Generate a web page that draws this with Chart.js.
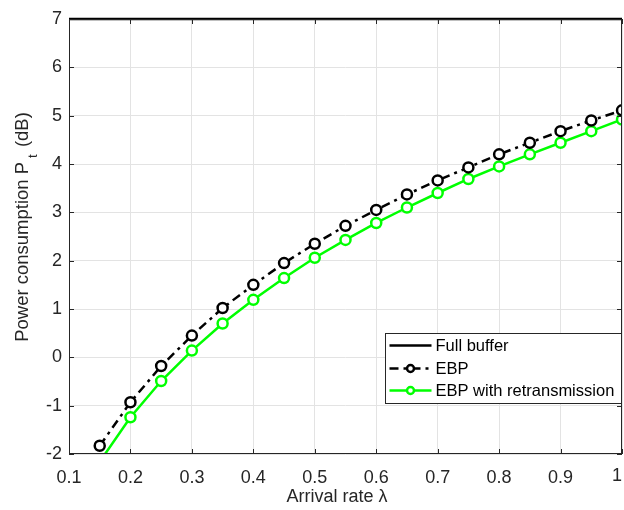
<!DOCTYPE html>
<html>
<head>
<meta charset="utf-8">
<script src="https://cdn.jsdelivr.net/npm/chart.js@4"></script>
<style>
  html, body { margin: 0; padding: 0; background: #fff; }
  #wrap { width: 624px; height: 510px; }
</style>
</head>
<body>
<div id="wrap"><canvas id="powerChart" width="624" height="510"></canvas></div>
<script>
// arrival rate (x)
const arrival = [0.15, 0.2, 0.25, 0.3, 0.35, 0.4, 0.45, 0.5, 0.55, 0.6, 0.65, 0.7, 0.75, 0.8, 0.85, 0.9, 0.95, 1.0];
// power consumption in dB
const ebp = [-1.83, -0.93, -0.18, 0.45, 1.02, 1.5, 1.95, 2.35, 2.72, 3.05, 3.37, 3.66, 3.93, 4.2, 4.44, 4.68, 4.9, 5.11];
const ebpRetx = [-2.16, -1.24, -0.49, 0.14, 0.7, 1.19, 1.64, 2.06, 2.43, 2.78, 3.1, 3.4, 3.69, 3.95, 4.2, 4.44, 4.68, 4.92];
const fullBufferX = [0.1, 1.0];
const fullBufferY = [7, 7];
const legendNames = ["Full buffer", "EBP", "EBP with retransmission"];
const xTitle = "Arrival rate λ";

const FONT = "'Liberation Sans', Arial, sans-serif";
const green = "#00ff00";
const dashDot = [9, 5, 3, 5];

function pts(xs, ys) {
  return xs.map((x, i) => ({ x: x, y: ys[i] }));
}

// box around the plot, inward ticks, axis titles, the "1" label, legend
const matlabStuff = {
  id: "matlabStuff",
  afterDraw(chart) {
    const ctx = chart.ctx;
    const a = chart.chartArea;
    const xs = chart.scales.x, ys = chart.scales.y;
    ctx.save();
    ctx.strokeStyle = "#262626";
    ctx.lineWidth = 1;
    ctx.strokeRect(a.left + 0.5, a.top + 0.5, a.right - a.left - 1, a.bottom - a.top - 1);
    // ticks pointing in
    ctx.beginPath();
    for (let v = -2; v <= 7; v++) {
      const y = Math.round(ys.getPixelForValue(v)) + 0.5;
      ctx.moveTo(a.left, y); ctx.lineTo(a.left + 5, y);
      ctx.moveTo(a.right, y); ctx.lineTo(a.right - 5, y);
    }
    for (let k = 1; k <= 10; k++) {
      const x = Math.round(xs.getPixelForValue(k / 10)) + 0.5;
      ctx.moveTo(x, a.bottom); ctx.lineTo(x, a.bottom - 5);
      ctx.moveTo(x, a.top); ctx.lineTo(x, a.top + 5);
    }
    ctx.stroke();

    // last x tick label, kept out of chart.js so it doesnt push the plot in
    ctx.fillStyle = "#262626";
    ctx.font = "18px " + FONT;
    ctx.textAlign = "center";
    ctx.textBaseline = "alphabetic";
    ctx.fillText("1", xs.getPixelForValue(1) - 5, 481);

    // x title
    ctx.font = "18px " + FONT;
    ctx.fillText(xTitle, 337, 502);

    // y axis title with subscript t
    ctx.translate(28, 227);
    ctx.rotate(-Math.PI / 2);
    const big = "18.5px " + FONT, small = "13px " + FONT;
    const p1 = "Power consumption P";
    const p2 = " (dB)";
    ctx.font = small;
    const wSub = ctx.measureText("t").width + 6;
    ctx.font = big;
    const w1 = ctx.measureText(p1).width, w2 = ctx.measureText(p2).width;
    let sx = -(w1 + wSub + w2) / 2;
    ctx.textAlign = "left";
    ctx.fillText(p1, sx, 0);
    ctx.font = small;
    ctx.fillText("t", sx + w1 + 4, 9);
    ctx.font = big;
    ctx.fillText(p2, sx + w1 + wSub, 0);
    ctx.restore();

    // legend box
    ctx.save();
    const lx = 385.5, ly = 333.5, lw = 236, lh = 70;
    ctx.fillStyle = "#fff";
    ctx.fillRect(lx, ly, lw, lh);
    ctx.strokeStyle = "#262626";
    ctx.lineWidth = 1;
    ctx.strokeRect(lx, ly, lw, lh);
    const rows = [ly + 12, ly + 35, ly + 57];
    const styles = [
      { color: "#000", dash: [], marker: false },
      { color: "#000", dash: dashDot, marker: true },
      { color: green, dash: [], marker: true }
    ];
    ctx.font = "16.5px " + FONT;
    ctx.textBaseline = "middle";
    rows.forEach((ry, i) => {
      const s = styles[i];
      ctx.strokeStyle = s.color;
      ctx.lineWidth = 2.5;
      ctx.setLineDash(s.dash);
      ctx.beginPath();
      ctx.moveTo(lx + 4, ry); ctx.lineTo(lx + 46, ry);
      ctx.stroke();
      ctx.setLineDash([]);
      if (s.marker) {
        ctx.fillStyle = "#fff";
        ctx.beginPath();
        ctx.arc(lx + 25, ry, 3.5, 0, Math.PI * 2);
        ctx.fill();
        ctx.stroke();
      }
      ctx.fillStyle = "#000";
      ctx.fillText(legendNames[i], lx + 50, ry + 1);
    });
    ctx.restore();
  }
};

new Chart("powerChart", {
  type: "line",
  data: {
    datasets: [
      {
        label: legendNames[0],
        data: pts(fullBufferX, fullBufferY),
        borderColor: "#000",
        borderWidth: 2.5,
        pointRadius: 0,
        clip: 2
      },
      {
        label: legendNames[1],
        data: pts(arrival, ebp),
        borderColor: "#000",
        borderWidth: 2.5,
        borderDash: dashDot,
        pointRadius: 5,
        pointBorderWidth: 2.5,
        pointBackgroundColor: "#fff",
        pointBorderColor: "#000",
        clip: 0
      },
      {
        label: legendNames[2],
        data: pts(arrival, ebpRetx),
        borderColor: green,
        borderWidth: 2.5,
        pointRadius: 5,
        pointBorderWidth: 2.5,
        pointBackgroundColor: "#fff",
        pointBorderColor: green,
        clip: 0
      }
    ]
  },
  options: {
    responsive: false,
    animation: false,
    // autoPadding was pulling the plot in because of the point radius
    layout: { autoPadding: false, padding: { left: 0, right: 2, top: 19, bottom: 0 } },
    plugins: {
      legend: { display: false },
      tooltip: { enabled: false }
    },
    scales: {
      x: {
        type: "linear",
        min: 0.1,
        max: 1,
        afterFit(scale) {
          scale.height = 56;
          // tick padding also gets added on the sides, dont want that
          scale.paddingLeft = 0;
          scale.paddingRight = 0;
        },
        ticks: {
          stepSize: 0.1,
          color: "#262626",
          font: { family: FONT, size: 18 },
          padding: 13,
          // "1" gets drawn by the plugin
          callback: (v) => (Math.abs(v - 1) < 1e-9 ? "" : Number(v).toFixed(1))
        },
        grid: { color: "#e3e3e3", drawTicks: false },
        border: { display: false }
      },
      y: {
        min: -2,
        max: 7,
        afterFit(scale) { scale.width = 69; },
        ticks: {
          stepSize: 1,
          color: "#262626",
          font: { family: FONT, size: 18 },
          padding: 7
        },
        grid: { color: "#e3e3e3", drawTicks: false },
        border: { display: false }
      }
    }
  },
  plugins: [matlabStuff]
});
</script>
</body>
</html>
